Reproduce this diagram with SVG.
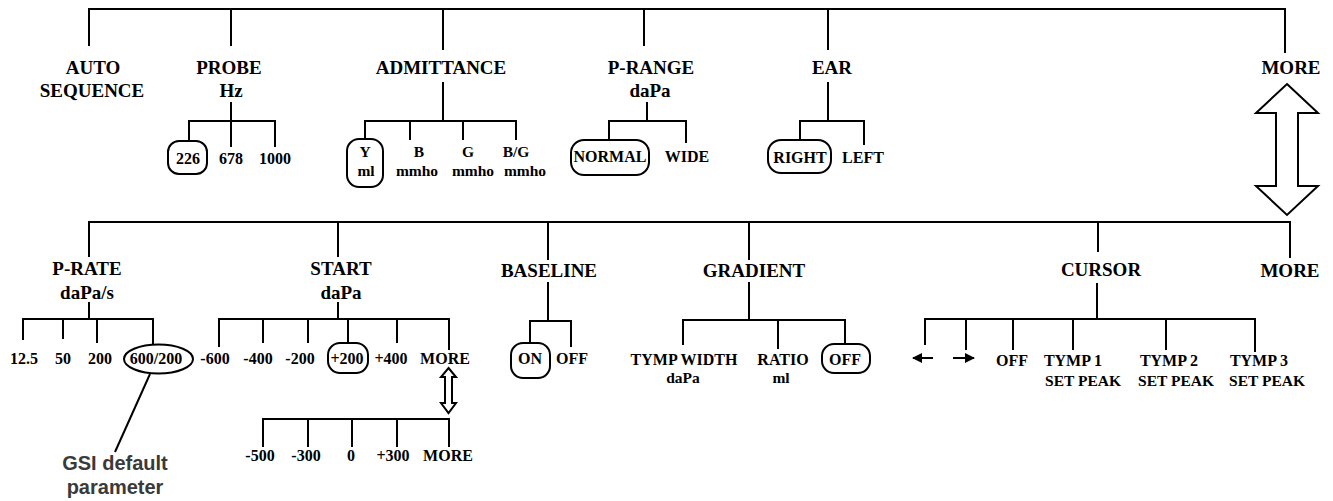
<svg xmlns="http://www.w3.org/2000/svg" width="1333" height="501" viewBox="0 0 1333 501">
  <style>
    .ln { fill: none; stroke: #000; stroke-width: 2; }
    .box { fill: none; stroke: #000; stroke-width: 2; }
    .dbl { fill: #fff; stroke: #000; stroke-width: 2; stroke-linejoin: miter; }
    .t { font-family: 'Liberation Serif', serif; font-weight: 700; fill: #000; text-anchor: middle; }
    .h { font-size: 19px; }
    .v { font-size: 16px; }
    .s { font-size: 15.5px; }
    .note { font-family: 'Liberation Sans', sans-serif; font-weight: 700; font-size: 20px; fill: #3a3a3a; text-anchor: middle; }
  </style>
  <defs>
    <marker id="head" viewBox="0 0 10 10" refX="9" refY="5" markerWidth="5" markerHeight="5" orient="auto-start-reverse">
      <path d="M0,0 L10,5 L0,10 Z" fill="#000"/>
    </marker>
  </defs>

  <rect width="1333" height="501" fill="#fff"/>

  <!-- tree connectors -->
  <g id="connectors" class="ln">
    <!-- menu page 1 -->
    <path d="M89,46 V9 H1285 V53"/>
    <path d="M231,9 V46"/>
    <path d="M443,9 V50"/>
    <path d="M644,9 V46"/>
    <path d="M828,9 V50"/>
    <!-- probe -->
    <path d="M231,102 V147 M189,140 V121 H275 V147"/>
    <!-- admittance -->
    <path d="M443,82 V121 M365,140 V121 H516 V140 M410,121 V140 M463,121 V140"/>
    <!-- p-range -->
    <path d="M647,102 V121 M609,140 V121 H686 V143"/>
    <!-- ear -->
    <path d="M828,82 V121 M800,140 V121 H864 V145"/>

    <!-- menu page 2 -->
    <path d="M89,257 V222 H1290 V258"/>
    <path d="M338,222 V257"/>
    <path d="M548,222 V260"/>
    <path d="M749,222 V260"/>
    <path d="M1098,222 V252"/>
    <!-- p-rate -->
    <path d="M89,302 V319 M23,340 V319 H153 V345 M63,319 V339 M97,319 V343"/>
    <!-- start -->
    <path d="M338,302 V319 M219,347 V319 H449 V350 M263,319 V343 M308,319 V343 M348,319 V343 M397,319 V343"/>
    <path d="M263,447 V419 H449 V447 M308,419 V447 M352,419 V447 M397,419 V447"/>
    <!-- baseline -->
    <path d="M548,282 V321 M530,343 V321 H571 V347"/>
    <!-- gradient -->
    <path d="M749,282 V320 M683,345 V320 H845 V344 M778,320 V349"/>
    <!-- cursor -->
    <path d="M1097,283 V319 M925,345 V319 H1255 V352 M966,319 V350 M1013,319 V350 M1073,319 V350 M1166,319 V350"/>

    <!-- default-parameter pointer -->
    <path d="M150,374 L115,452"/>
  </g>

  <!-- page switch arrows -->
  <g id="more-arrow-main">
    <path class="dbl" d="M1287,84 L1318,113 H1298 V186 H1318 L1287,215 L1256,186 H1276 V113 H1256 Z"/>
  </g>
  <g id="more-arrow-start">
    <path class="dbl" d="M448.5,368 L456,377 H452 V403 H456 L448.5,413 L441,403 H445 V377 H441 Z" stroke-width="1.5"/>
  </g>

  <!-- page 1 nodes -->
  <g id="auto-sequence" class="t h">
    <text x="93" y="74">AUTO</text>
    <text x="92" y="97">SEQUENCE</text>
  </g>
  <g id="probe" class="t">
    <text class="h" x="229" y="74">PROBE</text>
    <text class="h" x="231" y="97">Hz</text>
    <rect class="box" x="168" y="141" width="39" height="33" rx="11"/>
    <text class="v" x="188" y="164">226</text>
    <text class="v" x="231" y="164">678</text>
    <text class="v" x="275" y="164">1000</text>
  </g>
  <g id="admittance" class="t">
    <text class="h" x="441" y="74">ADMITTANCE</text>
    <rect class="box" x="347" y="139" width="36" height="48" rx="12"/>
    <text class="s" x="365" y="157">Y</text>
    <text class="s" x="366" y="176">ml</text>
    <text class="s" x="419" y="157">B</text>
    <text class="s" x="417" y="176">mmho</text>
    <text class="s" x="468" y="157">G</text>
    <text class="s" x="473" y="176">mmho</text>
    <text class="s" x="516" y="157">B/G</text>
    <text class="s" x="525" y="176">mmho</text>
  </g>
  <g id="p-range" class="t">
    <text class="h" x="651" y="74">P-RANGE</text>
    <text class="h" x="650" y="97">daPa</text>
    <rect class="box" x="571" y="140" width="78" height="35" rx="13"/>
    <text class="v" x="610" y="162">NORMAL</text>
    <text class="v" x="687" y="162">WIDE</text>
  </g>
  <g id="ear" class="t">
    <text class="h" x="832" y="74">EAR</text>
    <rect class="box" x="768" y="140" width="63" height="33" rx="13"/>
    <text class="v" x="800" y="163">RIGHT</text>
    <text class="v" x="863" y="163">LEFT</text>
  </g>
  <g id="more-1" class="t h">
    <text x="1291" y="74">MORE</text>
  </g>

  <!-- page 2 nodes -->
  <g id="p-rate" class="t">
    <text class="h" x="87" y="275">P-RATE</text>
    <text class="h" x="87" y="299">daPa/s</text>
    <text class="v" x="24" y="364">12.5</text>
    <text class="v" x="63" y="364">50</text>
    <text class="v" x="100" y="364">200</text>
    <ellipse class="box" cx="158.5" cy="359" rx="34.5" ry="14.5"/>
    <text class="v" x="156" y="364">600/200</text>
  </g>
  <g id="default-note" class="note">
    <text x="115" y="470">GSI default</text>
    <text x="115" y="494">parameter</text>
  </g>
  <g id="start" class="t">
    <text class="h" x="341" y="275">START</text>
    <text class="h" x="341" y="299">daPa</text>
    <text class="v" x="215" y="364">-600</text>
    <text class="v" x="258" y="364">-400</text>
    <text class="v" x="300" y="364">-200</text>
    <rect class="box" x="328" y="343" width="40" height="30" rx="12"/>
    <text class="v" x="347" y="364">+200</text>
    <text class="v" x="391" y="364">+400</text>
    <text class="v" x="445" y="364">MORE</text>
    <text class="v" x="260" y="461">-500</text>
    <text class="v" x="306" y="461">-300</text>
    <text class="v" x="351" y="461">0</text>
    <text class="v" x="393" y="461">+300</text>
    <text class="v" x="448" y="461">MORE</text>
  </g>
  <g id="baseline" class="t">
    <text class="h" x="549" y="277">BASELINE</text>
    <rect class="box" x="511" y="343" width="39" height="35" rx="12"/>
    <text class="v" x="530" y="364">ON</text>
    <text class="v" x="572" y="364">OFF</text>
  </g>
  <g id="gradient" class="t">
    <text class="h" x="754" y="277">GRADIENT</text>
    <text class="v" x="684" y="365">TYMP WIDTH</text>
    <text class="s" x="683" y="383">daPa</text>
    <text class="v" x="783" y="365">RATIO</text>
    <text class="s" x="781" y="383">ml</text>
    <rect class="box" x="822" y="344" width="48" height="29" rx="12"/>
    <text class="v" x="845" y="365">OFF</text>
  </g>
  <g id="cursor" class="t">
    <text class="h" x="1101" y="276">CURSOR</text>
    <line class="ln" x1="933" y1="358" x2="913" y2="358" marker-end="url(#head)"/>
    <line class="ln" x1="953" y1="358" x2="974" y2="358" marker-end="url(#head)"/>
    <text class="v" x="1012" y="366">OFF</text>
    <text class="v" x="1073" y="366">TYMP 1</text>
    <text class="s" x="1083" y="386">SET PEAK</text>
    <text class="v" x="1169" y="366">TYMP 2</text>
    <text class="s" x="1176" y="386">SET PEAK</text>
    <text class="v" x="1259" y="366">TYMP 3</text>
    <text class="s" x="1267" y="386">SET PEAK</text>
  </g>
  <g id="more-2" class="t h">
    <text x="1290" y="277">MORE</text>
  </g>
</svg>
